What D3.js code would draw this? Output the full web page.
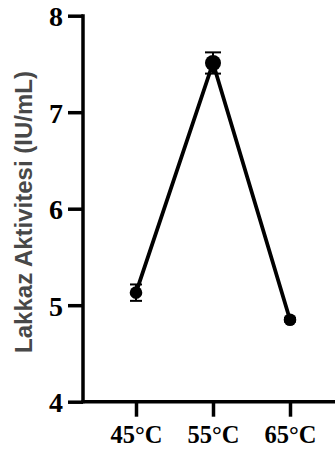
<!DOCTYPE html>
<html>
<head>
<meta charset="utf-8">
<script src="https://cdn.jsdelivr.net/npm/d3@7"></script>
<style>
  html, body { margin: 0; padding: 0; background: #fff; }
  svg { display: block; }
</style>
</head>
<body>
<svg id="chart" width="335" height="453"></svg>
<script>
// Laccase activity by incubation temperature (mean ± error)
const temperatures = ["45°C", "55°C", "65°C"];
const activity = [5.13, 7.51, 4.85];
const activityError = [0.085, 0.11, 0.02];
const yTickValues = [4, 5, 6, 7, 8];
const yTitle = "Lakkaz Aktivitesi (IU/mL)";

const svg = d3.select("#chart");
const W = 335, H = 453;
const axisX = 83, axisY = 401.7, topY = 15.7;

const x = d3.scalePoint().domain(temperatures).range([136, 290]);
const y = d3.scaleLinear().domain([4, 8]).range([axisY, topY]);

const data = temperatures.map((t, i) => ({ t, v: activity[i], e: activityError[i] }));
const peak = d3.max(activity);

// Axis lines
svg.append("line")
  .attr("x1", axisX).attr("x2", axisX)
  .attr("y1", topY - 1.5).attr("y2", axisY + 1.5)
  .attr("stroke", "#000").attr("stroke-width", 3.5);
svg.append("line")
  .attr("x1", axisX - 1.5).attr("x2", W)
  .attr("y1", axisY).attr("y2", axisY)
  .attr("stroke", "#000").attr("stroke-width", 3.5);

// Y axis ticks and labels
const yAxis = d3.axisLeft(y).tickValues(yTickValues).tickSize(15).tickPadding(5).tickFormat(d3.format("d"));
const gy = svg.append("g").attr("transform", `translate(${axisX},0)`).call(yAxis);
gy.select(".domain").remove();
gy.selectAll(".tick line").attr("stroke", "#000").attr("stroke-width", 3.5);
gy.selectAll(".tick text")
  .attr("fill", "#000")
  .attr("dy", "0.36em")
  .style("font-family", "'Liberation Serif', 'Times New Roman', serif")
  .style("font-weight", "bold")
  .style("font-size", "28px");

// X axis ticks and labels
const xAxis = d3.axisBottom(x).tickSize(15).tickPadding(9);
const gx = svg.append("g").attr("transform", `translate(0,${axisY})`).call(xAxis);
gx.select(".domain").remove();
gx.selectAll(".tick line").attr("stroke", "#000").attr("stroke-width", 3.5);
gx.selectAll(".tick text")
  .attr("fill", "#000")
  .style("font-family", "'Liberation Serif', 'Times New Roman', serif")
  .style("font-weight", "bold")
  .style("font-size", "24.5px");

// Y axis title
svg.append("text")
  .attr("transform", `translate(32,212) rotate(-90)`)
  .attr("text-anchor", "middle")
  .attr("fill", "#484848")
  .style("font-family", "'Liberation Sans', Arial, sans-serif")
  .style("font-weight", "bold")
  .style("font-size", "24px")
  .text(yTitle);

// Connecting line
svg.append("path")
  .datum(data)
  .attr("fill", "none")
  .attr("stroke", "#000")
  .attr("stroke-width", 3.8)
  .attr("stroke-linejoin", "miter")
  .attr("d", d3.line().x(d => x(d.t)).y(d => y(d.v)));

// Error bars
const eb = svg.append("g").selectAll("g").data(data).join("g");
eb.append("line")
  .attr("x1", d => x(d.t)).attr("x2", d => x(d.t))
  .attr("y1", d => y(d.v + d.e)).attr("y2", d => y(d.v - d.e))
  .attr("stroke", "#000").attr("stroke-width", 2);
eb.each(function (d) {
  const capHalf = d.v === peak ? 8 : 6;
  [d.v + d.e, d.v - d.e].forEach(v => {
    d3.select(this).append("line")
      .attr("x1", x(d.t) - capHalf).attr("x2", x(d.t) + capHalf)
      .attr("y1", y(v)).attr("y2", y(v))
      .attr("stroke", "#000").attr("stroke-width", 2);
  });
});

// Markers
svg.append("g").selectAll("circle").data(data).join("circle")
  .attr("cx", d => x(d.t))
  .attr("cy", d => y(d.v))
  .attr("r", d => d.v === peak ? 8 : 6.3)
  .attr("fill", "#000");
</script>
</body>
</html>
